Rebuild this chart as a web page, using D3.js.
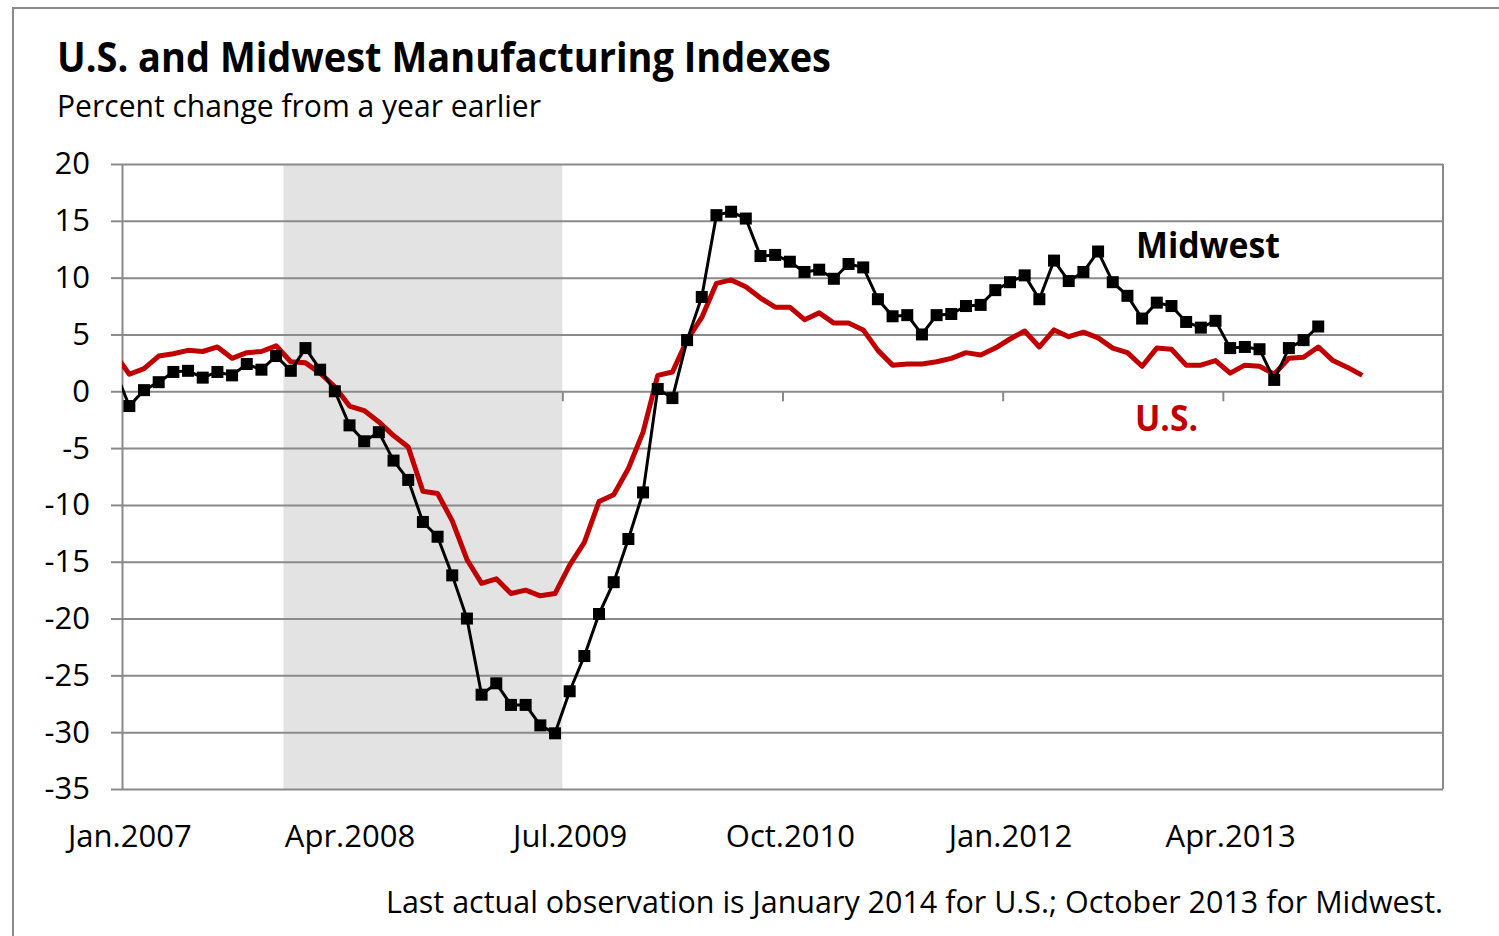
<!DOCTYPE html>
<html>
<head>
<meta charset="utf-8">
<script src="https://cdn.jsdelivr.net/npm/d3@7"></script>
<style>
  body { margin: 0; background: #fff; }
  text { font-family: "Open Sans", "Noto Sans", sans-serif; fill: #000; }
</style>
</head>
<body>
<div id="chart"></div>
<script>
// first value of each series is Dec 2006, one month before the axis starts
const seriesStart = -1;

// U.S. manufacturing index, % change from a year earlier (Dec 2006 - Jan 2014)
const usValues = [3.3, 1.5, 2.0, 3.1, 3.3, 3.6, 3.5, 3.9, 2.9, 3.4, 3.5, 4.0, 2.6, 2.5, 1.6, 0.4,
  -1.3, -1.7, -2.7, -3.9, -4.9, -8.8, -9.0, -11.4, -14.8, -16.9, -16.5, -17.8, -17.5, -18.0, -17.8,
  -15.3, -13.3, -9.7, -9.1, -6.8, -3.6, 1.4, 1.7, 4.5, 6.5, 9.5, 9.8, 9.2, 8.2, 7.4, 7.4, 6.3, 6.9,
  6.0, 6.0, 5.4, 3.6, 2.3, 2.4, 2.4, 2.6, 2.9, 3.4, 3.2, 3.8, 4.6, 5.3, 3.9, 5.4, 4.8, 5.2, 4.7,
  3.8, 3.4, 2.2, 3.8, 3.7, 2.3, 2.3, 2.7, 1.6, 2.3, 2.2, 1.5, 2.9, 3.0, 3.9, 2.7, 2.1, 1.4];

// Midwest manufacturing index (Dec 2006 - Oct 2013)
const midwestValues = [1.9, -1.3, 0.1, 0.8, 1.7, 1.8, 1.2, 1.7, 1.4, 2.4, 1.9, 3.1, 1.8, 3.8, 1.9,
  0.0, -3.0, -4.4, -3.6, -6.1, -7.8, -11.5, -12.8, -16.2, -20.0, -26.7, -25.7, -27.6, -27.6, -29.4,
  -30.1, -26.4, -23.3, -19.6, -16.8, -13.0, -8.9, 0.2, -0.6, 4.5, 8.3, 15.5, 15.8, 15.2, 11.9, 12.0,
  11.4, 10.5, 10.7, 9.9, 11.2, 10.9, 8.1, 6.6, 6.7, 5.0, 6.7, 6.8, 7.5, 7.6, 8.9, 9.6, 10.2, 8.1,
  11.5, 9.7, 10.5, 12.3, 9.6, 8.4, 6.4, 7.8, 7.5, 6.1, 5.6, 6.2, 3.8, 3.9, 3.7, 1.0, 3.8, 4.5, 5.7];

// x axis: months since Jan 2007
const monthCount = 90;
const tickMonths = [0, 15, 30, 45, 60, 75];
const tickLabels = ["Jan.2007", "Apr.2008", "Jul.2009", "Oct.2010", "Jan.2012", "Apr.2013"];
const yTicks = [-35, -30, -25, -20, -15, -10, -5, 0, 5, 10, 15, 20];

// recession: Dec 2007 through Jun 2009
const recessionStart = 11;
const recessionEnd = 30;

const width = 1499;
const height = 936;
const plot = { left: 122, right: 1443, top: 164, bottom: 789 };
const gray = "#8a8a8a";
const red = "#c00000";

const svg = d3.select("#chart")
              .append("svg")
              .attr("width", width)
              .attr("height", height);

// outer frame (runs off the right and bottom edges)
svg.append("rect")
   .attr("x", 13).attr("y", 8)
   .attr("width", width).attr("height", height)
   .attr("fill", "none")
   .attr("stroke", gray)
   .attr("stroke-width", 2);

const xScale = d3.scaleLinear().domain([0, monthCount]).range([plot.left, plot.right]);
const yScale = d3.scaleLinear().domain([-35, 20]).range([plot.bottom, plot.top]);

svg.append("clipPath").attr("id", "plot-clip")
   .append("rect")
   .attr("x", plot.left).attr("y", plot.top - 10)
   .attr("width", plot.right - plot.left).attr("height", plot.bottom - plot.top + 20);

// recession shading
svg.append("rect")
   .attr("x", xScale(recessionStart))
   .attr("y", plot.top)
   .attr("width", xScale(recessionEnd) - xScale(recessionStart))
   .attr("height", plot.bottom - plot.top)
   .attr("fill", "#e3e3e3");

// gridlines
const grid = svg.append("g")
   .attr("transform", `translate(${plot.left},0)`)
   .call(d3.axisLeft(yScale).tickValues(yTicks).tickSize(-(plot.right - plot.left)).tickFormat(""));
grid.select(".domain").remove();
grid.selectAll("line").attr("stroke", gray).attr("stroke-width", 2);

// right border of the plot
svg.append("line")
   .attr("x1", plot.right).attr("x2", plot.right)
   .attr("y1", plot.top).attr("y2", plot.bottom)
   .attr("stroke", gray).attr("stroke-width", 2);

// y axis (plain hyphen for negatives, like the original)
const yAxis = svg.append("g")
   .attr("transform", `translate(${plot.left},0)`)
   .call(d3.axisLeft(yScale).tickValues(yTicks).tickSize(11).tickPadding(21).tickSizeOuter(0)
           .tickFormat(d => String(d)));
yAxis.select(".domain").attr("stroke", gray).attr("stroke-width", 2);
yAxis.selectAll("line").attr("stroke", gray).attr("stroke-width", 2);
yAxis.selectAll("text")
     .style("font-family", '"Open Sans", sans-serif')
     .style("font-size", "31px")
     .attr("fill", "#000");

// tick marks on the zero line
const zeroAxis = svg.append("g")
   .attr("transform", `translate(0,${yScale(0)})`)
   .call(d3.axisBottom(xScale).tickValues(tickMonths.slice(2)).tickSize(10).tickFormat(""));
zeroAxis.select(".domain").remove();
zeroAxis.selectAll("line").attr("stroke", gray).attr("stroke-width", 2);

// month labels under the plot
const xAxis = svg.append("g")
   .attr("transform", `translate(0,${plot.bottom})`)
   .call(d3.axisBottom(xScale)
           .tickValues(tickMonths.map(m => m + 0.5))
           .tickSize(0).tickPadding(36)
           .tickFormat((d, i) => tickLabels[i]));
xAxis.select(".domain").remove();
xAxis.selectAll("text")
     .style("font-family", '"Open Sans", sans-serif')
     .style("font-size", "31px")
     .attr("fill", "#000");

// series lines
const line = offset => d3.line()
   .x((d, i) => xScale(i + offset + 0.5))
   .y(d => yScale(d));

const lines = svg.append("g").attr("clip-path", "url(#plot-clip)");

lines.append("path")
     .datum(usValues)
     .attr("d", line(seriesStart))
     .attr("fill", "none")
     .attr("stroke", red)
     .attr("stroke-width", 5)
     .attr("stroke-linejoin", "round");

lines.append("path")
     .datum(midwestValues)
     .attr("d", line(seriesStart))
     .attr("fill", "none")
     .attr("stroke", "#000")
     .attr("stroke-width", 3)
     .attr("stroke-linejoin", "round");

const markerSize = 12;
lines.selectAll(".mw-marker")
     .data(midwestValues)
     .enter()
     .append("rect")
     .attr("class", "mw-marker")
     .attr("x", (d, i) => xScale(i + seriesStart + 0.5) - markerSize / 2)
     .attr("y", d => yScale(d) - markerSize / 2)
     .attr("width", markerSize)
     .attr("height", markerSize)
     .attr("fill", "#000");

// series labels
svg.append("text")
   .attr("x", 1136).attr("y", 258)
   .attr("textLength", 144).attr("lengthAdjust", "spacingAndGlyphs")
   .style("font-size", "36px").style("font-weight", "bold")
   .text("Midwest");

svg.append("text")
   .attr("x", 1135).attr("y", 431)
   .attr("textLength", 63).attr("lengthAdjust", "spacingAndGlyphs")
   .style("font-size", "36px").style("font-weight", "bold")
   .style("fill", red)
   .text("U.S.");

// titles
svg.append("text")
   .attr("x", 57).attr("y", 72)
   .attr("textLength", 774).attr("lengthAdjust", "spacingAndGlyphs")
   .style("font-size", "41px").style("font-weight", "bold")
   .text("U.S. and Midwest Manufacturing Indexes");

svg.append("text")
   .attr("x", 57).attr("y", 117)
   .attr("textLength", 484).attr("lengthAdjust", "spacingAndGlyphs")
   .style("font-size", "31px")
   .text("Percent change from a year earlier");

// footnote
svg.append("text")
   .attr("x", 386).attr("y", 913)
   .attr("textLength", 1057).attr("lengthAdjust", "spacingAndGlyphs")
   .style("font-size", "31px")
   .text("Last actual observation is January 2014 for U.S.; October 2013 for Midwest.");
</script>
</body>
</html>
